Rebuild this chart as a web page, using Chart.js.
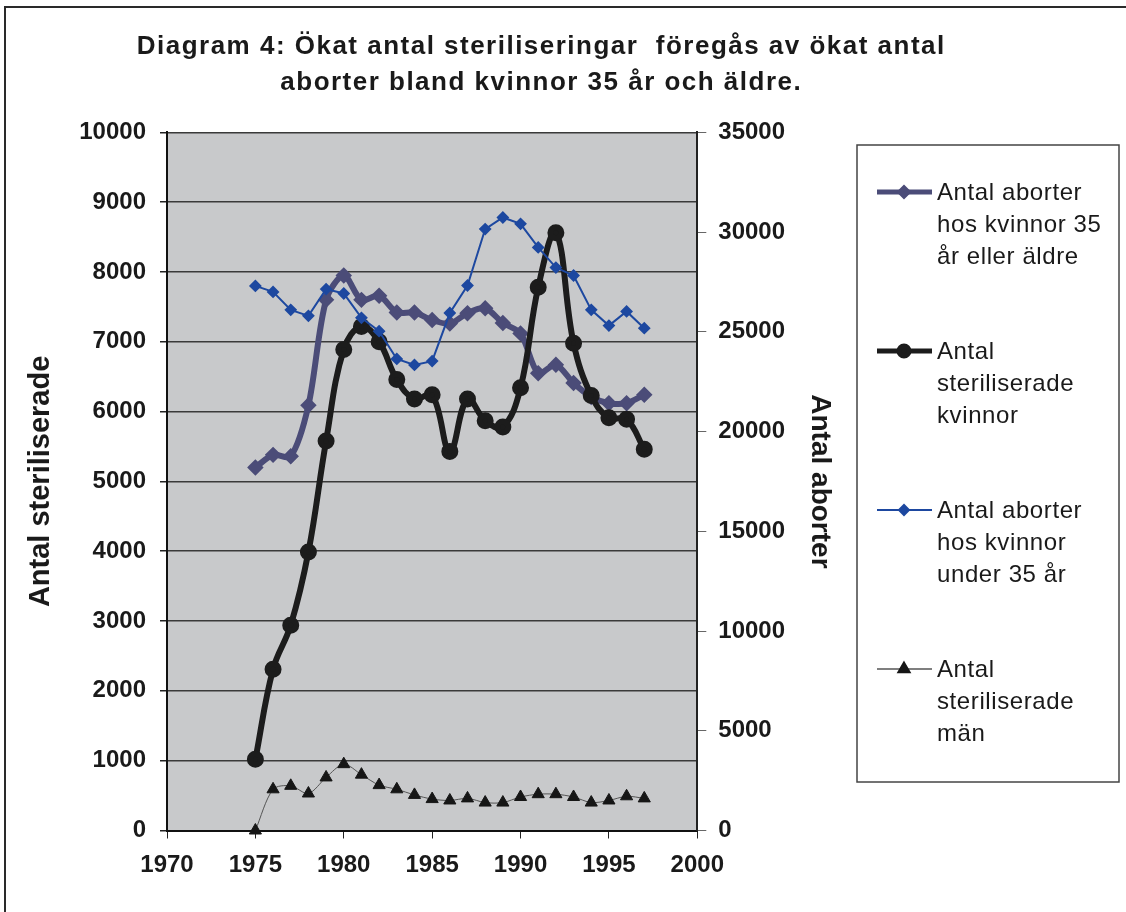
<!DOCTYPE html>
<html>
<head>
<meta charset="utf-8">
<title>Diagram 4</title>
<script src="https://cdn.jsdelivr.net/npm/chart.js@4.4.1/dist/chart.umd.min.js"></script>
<style>
  body { margin: 0; background: #fff; }
  #wrap { width: 1126px; height: 912px; }
</style>
</head>
<body>
<div id="wrap"><canvas id="chart" width="1126" height="912"></canvas></div>
<script>
// Values
const years = [1975, 1976, 1977, 1978, 1979, 1980, 1981, 1982, 1983, 1984, 1985, 1986,
               1987, 1988, 1989, 1990, 1991, 1992, 1993, 1994, 1995, 1996, 1997];
const abortsOver35 = [5200, 5380, 5360, 6090, 7600, 7950, 7600, 7660, 7420, 7420, 7310, 7260,
                      7410, 7480, 7270, 7120, 6550, 6670, 6410, 6210, 6120, 6120, 6240];
const sterilizedWomen = [1020, 2310, 2940, 3990, 5580, 6890, 7220, 7000, 6460, 6180, 6240, 5430,
                         6180, 5870, 5780, 6340, 7780, 8560, 6980, 6230, 5910, 5890, 5460];
const abortsUnder35 = [27300, 27000, 26100, 25800, 27140, 26920, 25700, 25030, 23640, 23340, 23530, 25940,
                       27320, 30150, 30730, 30410, 29230, 28220, 27820, 26100, 25310, 26020, 25180];
const sterilizedMen = [0, 590, 640, 530, 760, 950, 800, 650, 590, 510, 450, 430,
                       460, 400, 400, 480, 520, 520, 480, 400, 430, 490, 460];

const titleLines = ['Diagram 4: Ökat antal steriliseringar  föregås av ökat antal',
                    'aborter bland kvinnor 35 år och äldre.'];
const legendLabels = [
    ['Antal aborter', 'hos kvinnor 35', 'år eller äldre'],
    ['Antal', 'steriliserade', 'kvinnor'],
    ['Antal aborter', 'hos kvinnor', 'under 35 år'],
    ['Antal', 'steriliserade', 'män']
];

const FONT = "'Liberation Sans', Arial, sans-serif";
const TEXT = '#1a1a1a';

const toPoints = (arr) => years.map((yr, i) => ({ x: yr, y: arr[i] }));

// Grey plot background + outer frame
const backgroundPlugin = {
    id: 'plotBackground',
    beforeDraw(chart) {
        const { ctx, chartArea: a } = chart;
        ctx.save();
        ctx.fillStyle = '#c8c9cb';
        ctx.fillRect(a.left, a.top, a.right - a.left, a.bottom - a.top);
        ctx.strokeStyle = '#2a2a2a';
        ctx.lineWidth = 2;
        ctx.beginPath();
        ctx.moveTo(5, 912);
        ctx.lineTo(5, 7);
        ctx.lineTo(1126, 7);
        ctx.stroke();
        ctx.restore();
    }
};

// Title with the slightly wide letter spacing of the original
const titlePlugin = {
    id: 'spacedTitle',
    afterDraw(chart) {
        const ctx = chart.ctx;
        ctx.save();
        ctx.font = 'bold 26px ' + FONT;
        ctx.fillStyle = TEXT;
        ctx.textBaseline = 'middle';
        ctx.textAlign = 'left';
        const w0 = ctx.measureText(titleLines[0]).width;
        const spacing = (809 - w0) / titleLines[0].length;
        ctx.letterSpacing = spacing + 'px';
        const ys = [47, 83];
        titleLines.forEach((line, i) => {
            const w = ctx.measureText(line).width - spacing;
            ctx.fillText(line, 540.5 - w / 2, ys[i]);
        });
        ctx.restore();
    }
};

// Boxed legend with wrapped labels on the right
const legendPlugin = {
    id: 'boxLegend',
    afterDraw(chart) {
        const ctx = chart.ctx;
        const H = Chart.helpers;
        ctx.save();
        ctx.strokeStyle = '#444';
        ctx.lineWidth = 1.5;
        ctx.strokeRect(857, 145, 262, 637);
        ctx.font = '24px ' + FONT;
        ctx.letterSpacing = '0.6px';
        ctx.fillStyle = TEXT;
        ctx.textBaseline = 'middle';
        const entryY = [192, 351, 510, 669];
        chart.data.datasets.forEach((ds, i) => {
            const y = entryY[i];
            ctx.strokeStyle = ds.borderColor;
            ctx.lineWidth = ds.legendLineWidth;
            ctx.beginPath();
            ctx.moveTo(877, y);
            ctx.lineTo(932, y);
            ctx.stroke();
            ctx.fillStyle = ds.pointBackgroundColor;
            ctx.strokeStyle = ds.pointBorderColor;
            H.drawPoint(ctx, {
                pointStyle: ds.pointStyle,
                radius: ds.legendPointRadius,
                rotation: 0,
                borderWidth: 1
            }, 904, y);
            ctx.fillStyle = TEXT;
            legendLabels[i].forEach((txt, j) => ctx.fillText(txt, 937, y + 1 + j * 32));
        });
        ctx.restore();
    }
};

const ctx = document.getElementById('chart').getContext('2d');
new Chart(ctx, {
    type: 'line',
    data: {
        datasets: [{
            label: legendLabels[0].join(' '),
            data: toPoints(abortsOver35),
            yAxisID: 'y',
            borderColor: '#4b4c78',
            borderWidth: 6,
            tension: 0.3,
            pointStyle: 'rectRot',
            pointRadius: 4,
            pointBackgroundColor: '#4b4c78',
            pointBorderColor: '#4b4c78',
            legendLineWidth: 5,
            legendPointRadius: 4,
            order: 2
        }, {
            label: legendLabels[1].join(' '),
            data: toPoints(sterilizedWomen),
            yAxisID: 'y',
            borderColor: '#1c1c1c',
            borderWidth: 6,
            tension: 0.4,
            pointStyle: 'circle',
            pointRadius: 5.5,
            pointBackgroundColor: '#1c1c1c',
            pointBorderColor: '#1c1c1c',
            legendLineWidth: 5,
            legendPointRadius: 5,
            order: 1
        }, {
            label: legendLabels[2].join(' '),
            data: toPoints(abortsUnder35),
            yAxisID: 'y1',
            borderColor: '#1d48a0',
            borderWidth: 2,
            tension: 0,
            pointStyle: 'rectRot',
            pointRadius: 5,
            pointBackgroundColor: '#1d48a0',
            pointBorderColor: '#1d48a0',
            legendLineWidth: 2,
            legendPointRadius: 5,
            order: 0
        }, {
            label: legendLabels[3].join(' '),
            data: toPoints(sterilizedMen),
            yAxisID: 'y',
            borderColor: '#555',
            borderWidth: 1,
            tension: 0.3,
            pointStyle: 'triangle',
            pointRadius: 7,
            pointBackgroundColor: '#161616',
            pointBorderColor: '#161616',
            legendLineWidth: 1.5,
            legendPointRadius: 7,
            clip: false,
            order: 3
        }]
    },
    options: {
        responsive: false,
        animation: false,
        layout: { padding: { left: 10, right: 278.7, top: 132.3, bottom: 21.5 } },
        plugins: {
            legend: { display: false },
            title: { display: false },
            tooltip: { enabled: false }
        },
        scales: {
            x: {
                type: 'linear',
                min: 1970,
                max: 2000,
                afterFit: (scale) => { scale.height = 60; },
                grid: { drawOnChartArea: false, tickLength: 8, tickColor: '#222' },
                border: { color: '#111', width: 2 },
                ticks: {
                    stepSize: 5,
                    padding: 12,
                    color: TEXT,
                    font: { family: FONT, size: 24, weight: 'bold' },
                    callback: (v) => String(v)
                }
            },
            y: {
                position: 'left',
                min: 0,
                max: 10000,
                afterFit: (scale) => { scale.width = 157; },
                grid: { color: '#3a3a3a', lineWidth: 1.5, tickLength: 7, tickColor: '#222' },
                border: { color: '#111', width: 2 },
                ticks: {
                    stepSize: 1000,
                    padding: 14,
                    color: TEXT,
                    font: { family: FONT, size: 24, weight: 'bold' },
                    callback: (v) => String(v)
                },
                title: {
                    display: true,
                    text: 'Antal steriliserade',
                    color: TEXT,
                    font: { family: FONT, size: 29, weight: 'bold' },
                    padding: { top: 14, bottom: 0 }
                }
            },
            y1: {
                position: 'right',
                min: 0,
                max: 35000,
                afterFit: (scale) => { scale.width = 150; },
                grid: { drawOnChartArea: false, tickLength: 9, tickColor: '#666' },
                border: { color: '#222', width: 2 },
                ticks: {
                    stepSize: 5000,
                    padding: 12,
                    color: TEXT,
                    font: { family: FONT, size: 24, weight: 'bold' },
                    callback: (v) => String(v)
                },
                title: {
                    display: true,
                    text: 'Antal aborter',
                    color: TEXT,
                    font: { family: FONT, size: 28, weight: 'bold' },
                    padding: { top: 11, bottom: 0 }
                }
            }
        }
    },
    plugins: [backgroundPlugin, titlePlugin, legendPlugin]
});
</script>
</body>
</html>
